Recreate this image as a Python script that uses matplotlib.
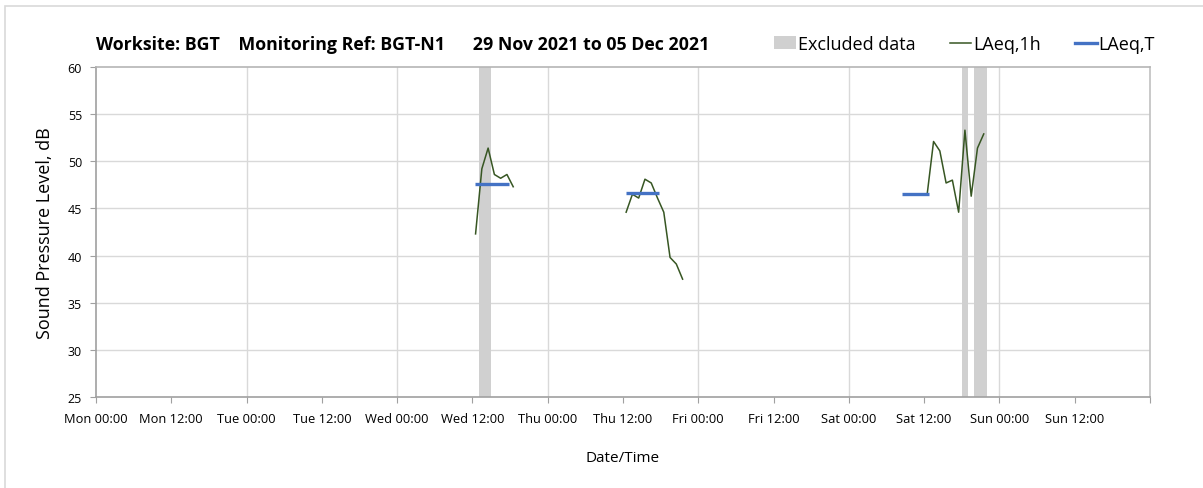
import matplotlib.pyplot as plt
from matplotlib.patches import Patch, Rectangle
from matplotlib.lines import Line2D

# x values are hours from Mon 29 Nov 2021 00:00
tick_labels = ["Mon 00:00", "Mon 12:00", "Tue 00:00", "Tue 12:00", "Wed 00:00", "Wed 12:00",
               "Thu 00:00", "Thu 12:00", "Fri 00:00", "Fri 12:00", "Sat 00:00", "Sat 12:00",
               "Sun 00:00", "Sun 12:00"]

# hourly LAeq,1h
wed_hours = [60.5, 61.5, 62.5, 63.5, 64.5, 65.5, 66.5]
wed_laeq1h = [42.3, 49.2, 51.4, 48.6, 48.2, 48.6, 47.3]
thu_hours = [84.5, 85.5, 86.5, 87.5, 88.5, 89.5, 90.5, 91.5, 92.5, 93.5]
thu_laeq1h = [44.6, 46.5, 46.1, 48.1, 47.7, 46.1, 44.6, 39.8, 39.1, 37.5]
sat_hours = [132.5, 133.5, 134.5, 135.5, 136.5, 137.5, 138.5, 139.5, 140.5, 141.5]
sat_laeq1h = [46.6, 52.1, 51.1, 47.7, 48.0, 44.6, 53.3, 46.3, 51.4, 52.9]

# LAeq,T periods (start, end, level)
laeqT_start = [60.4, 84.4, 128.4]
laeqT_end = [65.8, 89.8, 132.7]
laeqT_level = [47.55, 46.65, 46.55]

# excluded data periods
excl_start = [61.0, 138.1, 140.0]
excl_end = [63.0, 139.0, 142.0]

green = "#375623"
blue = "#4472c4"
grey = "#d0d0d0"

plt.rcParams['font.family'] = ['Open Sans', 'DejaVu Sans']

fig = plt.figure(figsize=(12.03, 4.89), dpi=100)
fig.patches.append(Rectangle((5 / 1203, -0.1), 1.2, 1 - 7 / 489 + 0.1, transform=fig.transFigure,
                             fill=False, edgecolor="#d9d9d9", linewidth=1.2))
ax = fig.add_axes([96 / 1203, 1 - 398 / 489, (1150 - 96) / 1203, (398 - 68) / 489])

for s, e in zip(excl_start, excl_end):
    ax.axvspan(s, e, color=grey, linewidth=0, zorder=1)

for xs, ys in [(wed_hours, wed_laeq1h), (thu_hours, thu_laeq1h), (sat_hours, sat_laeq1h)]:
    ax.plot(xs, ys, color=green, linewidth=1.1, zorder=3)

for s, e, v in zip(laeqT_start, laeqT_end, laeqT_level):
    ax.plot([s, e], [v, v], color=blue, linewidth=2.4, zorder=4, solid_capstyle="butt")

ax.set_xlim(0, 168)
ax.set_ylim(25, 60)
ax.set_xticks(range(0, 169, 12))
ax.set_xticklabels(tick_labels + [""], fontsize=9.3)
ax.set_yticks(range(25, 61, 5))
ax.tick_params(axis="y", labelsize=9, length=4, color="#a0a0a0", pad=6)
ax.tick_params(axis="x", length=4, color="#a0a0a0", pad=7)

for x in range(24, 168, 24):
    ax.axvline(x, color="#d9d9d9", linewidth=1, zorder=0)
for y in range(30, 60, 5):
    ax.axhline(y, color="#d9d9d9", linewidth=1, zorder=0)

ax.spines["left"].set_color("#a0a0a0")
ax.spines["bottom"].set_color("#a0a0a0")
ax.spines["top"].set_color("#b5b5b5")
ax.spines["right"].set_color("#c0c0c0")
for sp in ax.spines.values():
    sp.set_linewidth(1.2)

ax.set_xlabel("Date/Time", fontsize=11, labelpad=18)
ax.set_ylabel("Sound Pressure Level, dB", fontsize=13, labelpad=10)

fig.text(96 / 1203, 1 - 45 / 489,
         "Worksite: BGT    Monitoring Ref: BGT-N1      29 Nov 2021 to 05 Dec 2021",
         fontsize=12.8, fontweight="bold", va="center", ha="left")

handles = [Patch(facecolor=grey, edgecolor="none"),
           Line2D([], [], color=green, linewidth=1.1),
           Line2D([], [], color=blue, linewidth=2.4)]
fig.legend(handles, ["Excluded data", "LAeq,1h", "LAeq,T"], loc="center left",
           bbox_to_anchor=(758 / 1203, 1 - 45 / 489), ncol=3, frameon=False, fontsize=13,
           handlelength=1.2, handletextpad=0.1, columnspacing=1.9)

fig.savefig("out.png", dpi=100)
